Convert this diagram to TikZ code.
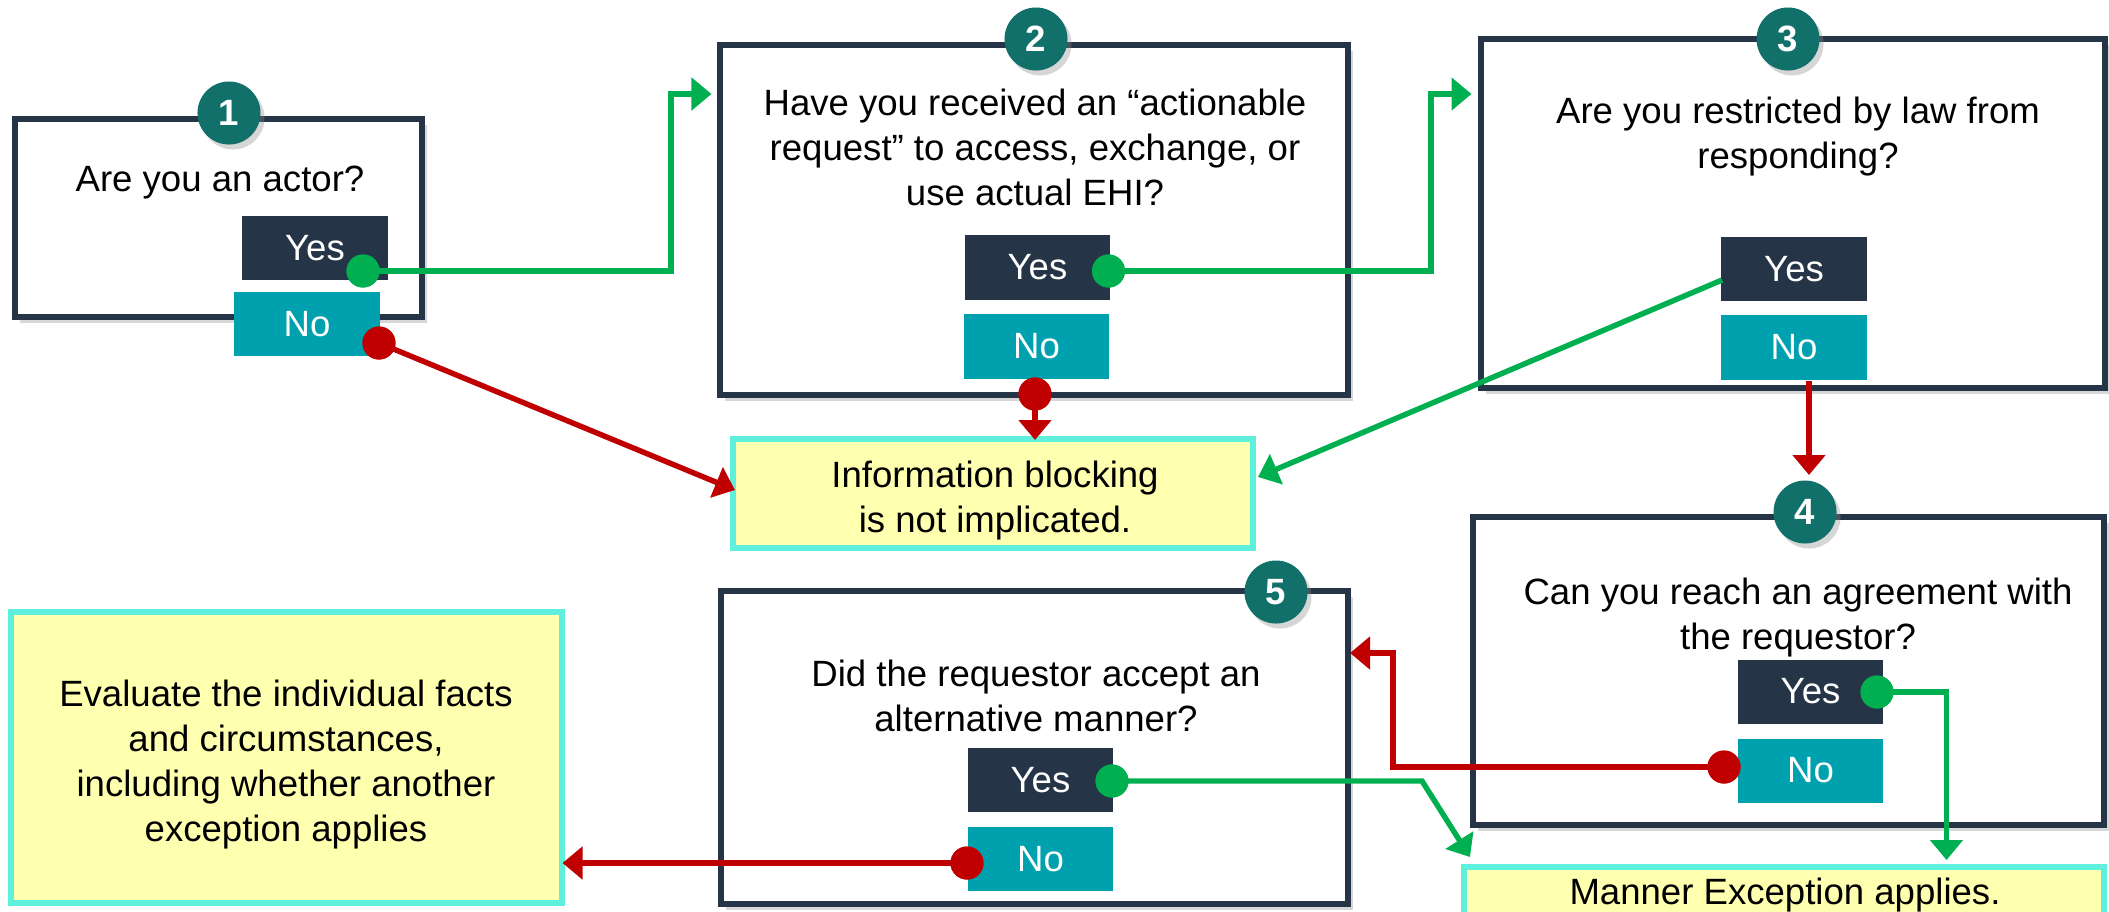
\documentclass[tikz,border=0pt]{standalone}
\usepackage{fontspec}
\setmainfont{Liberation Sans}
\usetikzlibrary{arrows.meta,shadows}
\definecolor{navy}{HTML}{253547}
\definecolor{noteal}{HTML}{00A1AF}
\definecolor{circ}{HTML}{12706A}
\definecolor{okgreen}{HTML}{00B050}
\definecolor{nored}{HTML}{C00000}
\definecolor{endfill}{HTML}{FFFFB0}
\definecolor{endline}{HTML}{5EF0DD}
\begin{document}
\begin{tikzpicture}[x=0.01cm,y=-0.01cm,
  qbox/.style={rectangle, draw=navy, line width=1.7pt, fill=white, inner sep=0pt,
    drop shadow={shadow xshift=0.05cm, shadow yshift=-0.06cm, opacity=0.35, fill=black!45}},
  endbox/.style={rectangle, draw=endline, line width=1.6pt, fill=endfill, inner sep=0pt},
  num/.style={circle, fill=circ, text=white, inner sep=0pt, minimum size=0.63cm,
    font=\fontsize{10.4pt}{12pt}\selectfont\bfseries,
    drop shadow={shadow xshift=0.04cm, shadow yshift=-0.05cm, opacity=0.35, fill=black!45}},
  txt/.style={align=center, inner sep=0pt, font=\fontsize{10.4pt}{12.8pt}\selectfont},
  yesbox/.style={rectangle, fill=navy, text=white, inner sep=0pt, minimum width=1.45cm,
    minimum height=0.64cm, font=\fontsize{10.4pt}{12pt}\selectfont},
  nobox/.style={yesbox, fill=noteal},
  gdot/.style={circle, fill=okgreen, inner sep=0pt, minimum size=0.33cm},
  rdot/.style={circle, fill=nored, inner sep=0pt, minimum size=0.33cm},
  gline/.style={draw=okgreen, line width=1.55pt},
  rline/.style={draw=nored, line width=1.55pt},
  tipa/.style={-{Triangle[length=0.2cm,width=0.32cm]}}
]
\useasboundingbox (0,0) rectangle (2109,911);
\clip (0,0) rectangle (2109,911);

% ---------- question boxes ----------
\node[qbox, minimum width=4.07cm, minimum height=1.98cm] (b1) at (218.5,218) {};
\node[qbox, minimum width=6.28cm, minimum height=3.5cm] (b2) at (1034,220) {};
\node[qbox, minimum width=6.24cm, minimum height=3.49cm] (b3) at (1793,213.5) {};
\node[qbox, minimum width=6.31cm, minimum height=3.08cm] (b4) at (1788.5,671) {};
\node[qbox, minimum width=6.265cm, minimum height=3.13cm] (b5) at (1034.75,747.5) {};

% ---------- end boxes ----------
\node[endbox, minimum width=5.2cm, minimum height=1.09cm] (ib) at (993,493.5) {};
\node[endbox, minimum width=6.4cm, minimum height=0.6cm] (mb) at (1784,897) {};
\node[endbox, minimum width=5.51cm, minimum height=2.91cm] (eb) at (286.5,757.5) {};

% ---------- number badges ----------
\node[num] (n1) at (229,113) {1};
\node[num] (n2) at (1036,39) {2};
\node[num] (n3) at (1788,39) {3};
\node[num] (n4) at (1805,512) {4};
\node[num] (n5) at (1276,592) {5};

% ---------- texts ----------
\node[txt] (t1) at (220,183) {Are you an actor?};
\node[txt] (t2) at (1035,147) {Have you received an “actionable\\request” to access, exchange, or\\use actual EHI?};
\node[txt] (t3) at (1798,137) {Are you restricted by law from\\responding?};
\node[txt] (t4) at (1798,618) {Can you reach an agreement with\\the requestor?};
\node[txt] (t5) at (1036,696) {Did the requestor accept an\\alternative manner?};
\node[txt] (it) at (995,501) {Information blocking\\is not implicated.};
\node[txt] (mt) at (1785,895) {Manner Exception applies.};
\node[txt] (et) at (286,765) {Evaluate the individual facts\\and circumstances,\\including whether another\\exception applies};

% ---------- answer boxes ----------
\node[yesbox] (y1) at (315,248) {Yes};
\node[nobox] (no1) at (307,324) {No};
\node[yesbox] (y2) at (1037.5,267.5) {Yes};
\node[nobox] (no2) at (1036.5,346.5) {No};
\node[yesbox] (y3) at (1794,269) {Yes};
\node[nobox] (no3) at (1794,347.5) {No};
\node[yesbox] (y4) at (1810.5,691.5) {Yes};
\node[nobox] (no4) at (1810.5,770.5) {No};
\node[yesbox] (y5) at (1040.5,780) {Yes};
\node[nobox] (no5) at (1040.5,859) {No};

% ---------- dots ----------
\node[gdot] (gd1) at (363,271) {};
\node[rdot] (rd1) at (379,343) {};
\node[gdot] (gd2) at (1108.5,271) {};
\node[rdot] (rd2) at (1035,394) {};
\node[gdot] (gd4) at (1877,692) {};
\node[rdot] (rd4) at (1724,767) {};
\node[gdot] (gd5) at (1112,781) {};
\node[rdot] (rd5) at (967,863) {};

% ---------- connector points ----------
\coordinate (k1) at (671,94);
\coordinate (p1) at (711.5,94);
\coordinate (k2) at (1431,94);
\coordinate (p2) at (1471.5,94);
\coordinate (s3) at (1722,280);
\coordinate (p3) at (1258,477);
\coordinate (s3n) at (1809,381);
\coordinate (p4) at (1809,475);
\coordinate (p5) at (735,490);
\coordinate (p6) at (1035,440);
\coordinate (k4) at (1946.5,692);
\coordinate (p7) at (1946.5,860);
\coordinate (k5) at (1393,653);
\coordinate (p8) at (1350,653);
\coordinate (k6) at (1422,781);
\coordinate (p9) at (1470,857);
\coordinate (p10) at (562.5,863);

% ---------- connectors ----------
\draw[gline, tipa] (gd1.center) -| (k1) -- (p1);
\draw[gline, tipa] (gd2.center) -| (k2) -- (p2);
\draw[gline, tipa] (s3) -- (p3);
\draw[rline, tipa] (s3n) -- (p4);
\draw[rline, tipa] (rd1.center) -- (p5);
\draw[rline, tipa] (rd2.center) -- (p6);
\draw[gline, tipa] (gd4.center) -| (p7);
\draw[rline, tipa] (rd4.center) -| (k5) -- (p8);
\draw[gline, tipa] (gd5.center) -- (k6) -- (p9);
\draw[rline, tipa] (rd5.center) -- (p10);

% dots on top
\fill[okgreen] (gd1) circle (0.165cm);
\fill[nored] (rd1) circle (0.165cm);
\fill[okgreen] (gd2) circle (0.165cm);
\fill[nored] (rd2) circle (0.165cm);
\fill[okgreen] (gd4) circle (0.165cm);
\fill[nored] (rd4) circle (0.165cm);
\fill[okgreen] (gd5) circle (0.165cm);
\fill[nored] (rd5) circle (0.165cm);
\end{tikzpicture}
\end{document}
